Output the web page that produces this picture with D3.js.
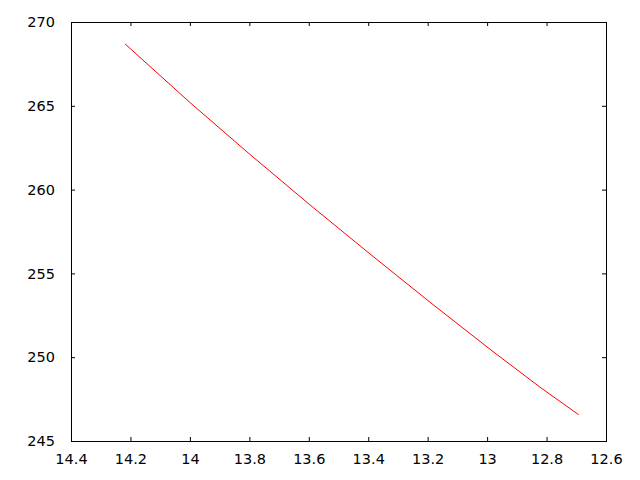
<!DOCTYPE html>
<html>
<head>
<meta charset="utf-8">
<script src="https://cdn.jsdelivr.net/npm/d3@7"></script>
<style>
  body { margin: 0; background: #fff; }
  svg { display: block; }
  .axis text { font-family: "DejaVu Sans", sans-serif; font-size: 14.5px; fill: #000; }
  .axis line { stroke: #000; }
</style>
</head>
<body>
<div id="chart"></div>
<script>
// data
var xValues = [14.218, 14.000, 13.798, 13.596, 13.394, 13.192, 12.990, 12.822, 12.692];
var yValues = [268.69, 265.20, 262.10, 259.09, 256.16, 253.28, 250.47, 248.21, 246.57];
var xTicks = [14.4, 14.2, 14, 13.8, 13.6, 13.4, 13.2, 13, 12.8, 12.6];
var yTicks = [245, 250, 255, 260, 265, 270];

var width = 640, height = 480;
var plotLeft = 71, plotRight = 606, plotTop = 22, plotBottom = 441;

var svg = d3.select('#chart').append('svg')
    .attr('width', width)
    .attr('height', height);

// reversed x axis
var x = d3.scaleLinear().domain([14.4, 12.6]).range([plotLeft, plotRight]);
var y = d3.scaleLinear().domain([245, 270]).range([plotBottom, plotTop]);

var fmt = function(d) { return String(+d.toFixed(1)); };

// bottom axis
svg.append('g')
    .attr('class', 'axis')
    .attr('transform', 'translate(0,' + plotBottom + ')')
    .call(d3.axisBottom(x).tickValues(xTicks).tickFormat(fmt).tickSizeInner(-4).tickSizeOuter(0).tickPadding(13))
    .call(function(g) { g.select('.domain').remove(); });

// left axis
svg.append('g')
    .attr('class', 'axis')
    .attr('transform', 'translate(' + plotLeft + ',0)')
    .call(d3.axisLeft(y).tickValues(yTicks).tickFormat(d3.format('d')).tickSizeInner(-4).tickSizeOuter(0).tickPadding(16))
    .call(function(g) { g.select('.domain').remove(); });

// mirrored ticks on top and right
svg.append('g')
    .attr('class', 'axis')
    .attr('transform', 'translate(0,' + plotTop + ')')
    .call(d3.axisTop(x).tickValues(xTicks).tickFormat('').tickSizeInner(-4).tickSizeOuter(0))
    .call(function(g) { g.select('.domain').remove(); });

svg.append('g')
    .attr('class', 'axis')
    .attr('transform', 'translate(' + plotRight + ',0)')
    .call(d3.axisRight(y).tickValues(yTicks).tickFormat('').tickSizeInner(-4).tickSizeOuter(0))
    .call(function(g) { g.select('.domain').remove(); });

// frame
svg.append('rect')
    .attr('x', plotLeft + 0.5)
    .attr('y', plotTop + 0.5)
    .attr('width', plotRight - plotLeft)
    .attr('height', plotBottom - plotTop)
    .attr('fill', 'none')
    .attr('stroke', '#000')
    .attr('stroke-width', 1);

// the data line
var data = xValues.map(function(v, i) { return {x: v, y: yValues[i]}; });

var valueline = d3.line()
    .x(function(d) { return x(d.x); })
    .y(function(d) { return y(d.y); });

svg.append('path')
    .datum(data)
    .attr('fill', 'none')
    .attr('stroke', '#ff0000')
    .attr('stroke-width', 1)
    .attr('d', valueline);
</script>
</body>
</html>
